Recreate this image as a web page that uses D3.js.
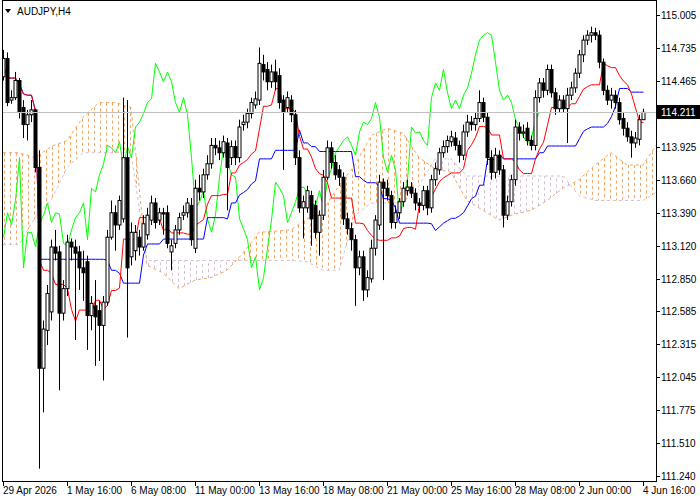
<!DOCTYPE html>
<html>
<head>
<meta charset="utf-8">
<script src="https://cdn.jsdelivr.net/npm/d3@7"></script>
<style>
body { margin: 0; background: #fff; }
text { font-family: "Liberation Sans", Arial, sans-serif; font-size: 10px; fill: #000; }
</style>
</head>
<body>
<svg id="chart" width="700" height="500"></svg>
<script>
// AUDJPY H4 bars, 29 Apr 2026 00:00 -> 4 Jun 2026 16:00
var open = [114.50,114.65,114.31,114.33,114.47,114.25,114.11,114.19,114.23,113.76,
112.12,112.43,112.58,113.11,113.07,112.57,112.77,113.15,113.11,113.07,
112.94,112.99,112.55,112.63,112.59,112.47,112.66,113.19,113.39,113.29,
113.34,113.84,113.03,113.08,113.19,113.11,113.21,113.33,113.47,113.33,
113.39,113.39,113.07,113.14,113.25,113.37,113.39,113.45,113.10,113.59,
113.56,113.70,113.79,113.94,113.92,113.88,113.96,113.84,113.93,113.84,
114.11,114.13,114.20,114.27,114.31,114.60,114.56,114.46,114.54,114.51,
114.31,114.25,114.31,114.19,113.84,113.43,113.43,113.53,113.45,113.23,
113.37,113.68,113.92,113.80,113.74,113.68,113.34,113.26,113.17,112.94,
113.03,112.76,112.85,113.10,113.29,113.64,113.59,113.53,113.31,113.39,
113.48,113.57,113.60,113.55,113.47,113.45,113.57,113.43,113.66,113.74,
113.88,113.93,113.97,114.00,113.94,113.86,114.05,114.13,114.11,114.16,
114.29,114.17,113.84,113.72,113.86,113.74,113.37,113.48,113.66,114.09,
114.04,114.08,113.98,113.94,114.33,114.45,114.39,114.56,114.37,114.24,
114.31,114.24,114.35,114.41,114.53,114.68,114.80,114.84,114.86,114.84,
114.62,114.39,114.31,114.35,114.29,114.16,114.08,114.01,113.96,113.99,
114.15];
var high = [114.72,114.70,114.39,114.54,114.49,114.31,114.23,114.31,114.24,113.90,
112.51,112.80,113.17,113.25,113.12,112.84,113.21,113.18,113.17,113.12,
113.08,113.04,112.71,112.84,112.67,112.71,113.25,113.49,113.45,113.53,
114.33,114.31,113.31,113.29,113.25,113.37,113.43,113.53,113.51,113.43,
113.43,113.45,113.17,113.29,113.39,113.45,113.51,113.51,113.66,113.70,
113.75,113.86,114.00,114.00,113.98,114.02,114.00,113.98,113.98,114.15,
114.19,114.24,114.33,114.38,114.74,114.68,114.62,114.60,114.64,114.57,
114.35,114.38,114.35,114.23,113.90,113.53,113.61,113.57,113.49,113.41,
113.74,113.98,113.97,113.86,113.78,113.72,113.39,113.31,113.21,113.08,
113.08,112.92,113.17,113.37,113.70,113.67,113.66,113.57,113.45,113.51,
113.64,113.66,113.64,113.59,113.51,113.61,113.61,113.70,113.80,113.92,
113.98,114.02,114.06,114.05,113.98,114.11,114.19,114.18,114.21,114.39,
114.33,114.21,113.90,113.92,113.90,113.78,113.53,113.70,114.15,114.13,
114.11,114.13,114.02,114.39,114.49,114.49,114.60,114.60,114.41,114.35,
114.35,114.41,114.46,114.57,114.72,114.84,114.88,114.91,114.90,114.88,
114.65,114.43,114.41,114.39,114.33,114.21,114.13,114.06,114.05,114.19,
114.24];
var low = [114.47,114.26,114.28,114.31,114.16,114.00,113.98,114.13,113.72,111.30,
111.76,112.31,112.51,113.00,111.94,112.51,112.71,113.00,112.35,112.76,
112.67,112.27,112.43,112.14,112.18,112.02,112.63,113.17,113.08,113.25,
113.31,112.37,112.96,113.00,113.04,113.08,113.17,113.29,113.26,113.29,
113.21,113.10,112.92,113.10,113.21,113.33,113.35,113.12,113.06,113.49,
113.51,113.66,113.75,113.86,113.82,113.84,113.41,113.78,113.78,113.80,
114.06,114.08,114.16,114.24,114.27,114.47,114.39,114.41,114.39,114.24,
113.74,114.21,114.13,113.78,113.39,113.18,113.39,113.12,113.18,113.04,
113.33,113.66,113.75,113.66,113.61,113.29,113.21,113.08,112.63,112.88,
112.67,112.70,112.82,113.04,113.25,112.84,113.49,113.26,113.26,113.34,
113.44,113.53,113.51,113.41,113.39,113.41,113.37,113.39,113.61,113.70,
113.84,113.88,113.93,113.90,113.80,113.82,114.01,114.06,114.06,114.13,
114.13,113.78,113.66,113.67,113.70,113.27,113.33,113.44,113.61,113.98,
114.00,113.94,113.90,113.90,114.29,114.33,114.35,114.33,114.19,114.21,
114.21,113.96,114.31,114.37,114.49,114.62,114.76,114.78,114.80,114.57,
114.35,114.27,114.24,114.24,114.11,114.02,113.97,113.84,113.92,113.94,
114.16];
var close = [114.65,114.29,114.33,114.47,114.21,114.11,114.19,114.23,113.76,112.12,
112.44,112.73,113.11,113.06,112.57,112.77,113.15,113.11,113.06,112.94,
112.90,112.55,112.65,112.54,112.47,112.66,113.19,113.39,113.29,113.49,
113.84,112.94,113.23,113.23,113.11,113.30,113.37,113.47,113.31,113.39,
113.38,113.14,113.12,113.25,113.35,113.39,113.47,113.17,113.59,113.56,
113.70,113.79,113.94,113.92,113.88,113.97,113.76,113.93,113.84,114.09,
114.13,114.20,114.29,114.32,114.61,114.54,114.46,114.54,114.46,114.29,
114.21,114.33,114.19,113.84,113.43,113.48,113.57,113.34,113.23,113.37,
113.68,113.92,113.80,113.70,113.68,113.34,113.26,113.17,112.94,113.03,
112.76,112.86,113.10,113.33,113.64,113.59,113.53,113.31,113.39,113.48,
113.59,113.60,113.55,113.47,113.45,113.57,113.43,113.66,113.75,113.88,
113.93,113.98,114.01,113.94,113.86,114.05,114.13,114.11,114.16,114.29,
114.17,113.84,113.72,113.86,113.74,113.37,113.48,113.66,114.09,114.04,
114.05,113.98,113.94,114.33,114.45,114.39,114.56,114.37,114.24,114.31,
114.24,114.35,114.41,114.53,114.68,114.80,114.84,114.86,114.84,114.62,
114.39,114.31,114.35,114.29,114.15,114.08,114.01,113.96,114.00,114.15,
114.21];

// Senkou spans, one value every 4 bars (bar index 0..164)
var spanIdx = [0,4,8,12,16,20,24,28,32,36,40,44,48,52,56,60,64,68,72,76,80,
  84,88,92,96,100,104,108,112,116,120,124,128,132,136,140,144,148,152,156,160,164];
var spanA = [113.88,113.88,113.84,113.93,113.98,114.17,114.29,114.29,114.25,112.96,112.90,
  112.77,112.84,112.86,112.92,113.06,113.23,113.24,113.25,113.34,113.41,
  113.61,113.78,114.02,114.08,114.04,113.84,113.75,113.72,113.49,113.41,
  113.33,113.38,113.41,113.49,113.59,113.66,113.78,113.88,113.78,113.78,113.98];
var spanB = [113.13,113.13,113.35,113.49,113.76,113.88,113.88,113.88,113.88,113.00,113.00,
  113.00,113.00,113.00,113.00,113.00,113.00,113.00,113.00,112.99,112.92,
  112.92,113.37,113.47,113.47,113.47,113.61,113.83,113.83,113.69,113.69,
  113.69,113.69,113.69,113.69,113.69,113.53,113.49,113.49,113.49,113.49,113.57];

var yTicks = [115.005,114.735,114.465,113.925,113.660,113.390,113.120,112.850,112.585,112.315,112.045,111.775,111.510,111.240];
var timeTicks = [0,16,32,48,64,80,96,112,128,144,160];
var timeLabels = ["29 Apr 2026","1 May 16:00","6 May 08:00","11 May 00:00","13 May 16:00","18 May 08:00","21 May 00:00","25 May 16:00","28 May 08:00","2 Jun 00:00","4 Jun 16:00"];
var lastPrice = 114.211;

var plotL = 2, plotR = 656, plotT = 0, plotB = 481;
var svg = d3.select("#chart");

var x = d3.scaleLinear().domain([0, 160]).range([3, 643]);
var y = d3.scaleLinear().domain([111.240, 115.005]).range([476, 15]);

var clip = svg.append("clipPath").attr("id", "plot")
  .append("rect").attr("x", plotL).attr("y", plotT).attr("width", plotR - plotL).attr("height", plotB - plotT);
var g = svg.append("g").attr("clip-path", "url(#plot)");

// cloud hatching
var aAt = d3.scaleLinear().domain(spanIdx).range(spanA);
var bAt = d3.scaleLinear().domain(spanIdx).range(spanB);
var hatch = d3.range(4, plotR, 6);
g.selectAll(".hatch").data(hatch).enter().append("line")
  .attr("x1", d => d + 0.5).attr("x2", d => d + 0.5)
  .attr("y1", d => y(aAt(x.invert(d))))
  .attr("y2", d => y(bAt(x.invert(d))))
  .attr("stroke", d => aAt(x.invert(d)) >= bAt(x.invert(d)) ? "#F4A460" : "#D8BFD8")
  .attr("stroke-dasharray", "3,3");

var spanLine = d3.line().x(d => x(d[0])).y(d => y(d[1]));
g.append("path").datum(d3.zip(spanIdx, spanB)).attr("d", spanLine)
  .attr("fill", "none").attr("stroke", "#D8BFD8").attr("stroke-dasharray", "3,3");
g.append("path").datum(d3.zip(spanIdx, spanA)).attr("d", spanLine)
  .attr("fill", "none").attr("stroke", "#F4A460").attr("stroke-dasharray", "3,3");

// price line
svg.append("line").attr("x1", plotL).attr("x2", plotR)
  .attr("y1", Math.round(y(lastPrice)) + 0.5).attr("y2", Math.round(y(lastPrice)) + 0.5)
  .attr("stroke", "#C0C0C0");

// tenkan / kijun from the bars
function midline(n) {
  return close.map(function(c, i) {
    var s = Math.max(0, i - n + 1);
    return [i, (d3.max(high.slice(s, i + 1)) + d3.min(low.slice(s, i + 1))) / 2];
  });
}
var stepLine = d3.line().x(d => x(d[0]) + 0.5).y(d => y(d[1])).curveStepAfter;
var plain = d3.line().x(d => x(d[0]) + 0.5).y(d => y(d[1]));

// chikou: closes drawn 26 bars back
var chikou = close.slice(26).map((c, i) => [i, c]);
g.append("path").datum(chikou).attr("d", plain).attr("fill", "none").attr("stroke", "#00FF00");
g.append("path").datum(midline(26)).attr("d", plain).attr("fill", "none").attr("stroke", "#0000FF");
g.append("path").datum(midline(9)).attr("d", plain).attr("fill", "none").attr("stroke", "#FF0000");

// candles
var bars = d3.range(close.length);
g.selectAll(".wick").data(bars).enter().append("line")
  .attr("x1", i => x(i) + 0.5).attr("x2", i => x(i) + 0.5)
  .attr("y1", i => y(high[i])).attr("y2", i => y(low[i]))
  .attr("stroke", "#000");
g.selectAll(".body").data(bars).enter().append("rect")
  .attr("x", i => x(i) - 1).attr("width", 3)
  .attr("y", i => Math.min(y(open[i]), y(close[i])))
  .attr("height", i => Math.max(1, Math.abs(y(open[i]) - y(close[i]))))
  .attr("fill", i => close[i] >= open[i] ? "#fff" : "#000")
  .attr("stroke", "#000").attr("stroke-width", 1);

// frame
svg.append("rect").attr("x", plotL + 0.5).attr("y", plotT + 0.5)
  .attr("width", plotR - plotL).attr("height", plotB - plotT)
  .attr("fill", "none").attr("stroke", "#000");

// right axis
svg.selectAll(".ytick").data(yTicks).enter().append("line")
  .attr("x1", plotR).attr("x2", plotR + 4)
  .attr("y1", d => Math.round(y(d)) + 0.5).attr("y2", d => Math.round(y(d)) + 0.5)
  .attr("stroke", "#000");
svg.selectAll(".ylab").data(yTicks).enter().append("text")
  .attr("x", 661).attr("y", d => y(d) + 4)
  .text(d => d.toFixed(3));
var ly = Math.round(y(lastPrice));
svg.append("rect").attr("x", 657).attr("y", ly - 7).attr("width", 43).attr("height", 14).attr("fill", "#000");
svg.append("text").attr("x", 661).attr("y", ly + 4).style("fill", "#fff").text(lastPrice.toFixed(3));

// bottom axis
svg.selectAll(".xtick").data(timeTicks).enter().append("line")
  .attr("x1", d => x(d) + 0.5).attr("x2", d => x(d) + 0.5)
  .attr("y1", plotB).attr("y2", plotB + 5).attr("stroke", "#000");
svg.selectAll(".xlab").data(timeTicks).enter().append("text")
  .attr("x", d => x(d)).attr("y", 494)
  .text((d, i) => timeLabels[i]);

// title
svg.append("path").attr("d", "M5,9 L11,9 L8,13 Z").attr("fill", "#000");
svg.append("text").attr("x", 17).attr("y", 15).text("AUDJPY,H4");
</script>
</body>
</html>
